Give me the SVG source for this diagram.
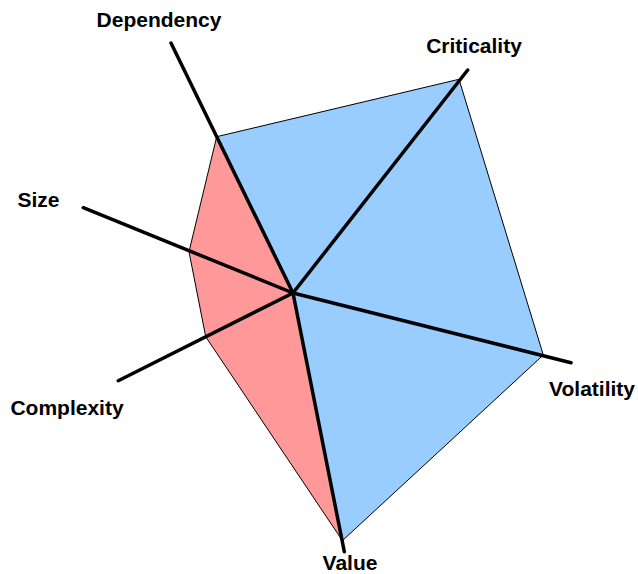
<svg xmlns="http://www.w3.org/2000/svg" width="638" height="574" viewBox="0 0 638 574">
<style>
.lbl{font-family:"Liberation Sans",Arial,sans-serif;font-weight:bold;font-size:21px;fill:#000;text-anchor:middle}
.axis{stroke:#000;stroke-width:3.5;stroke-linecap:round;fill:none}
.red{fill:#ff9999;stroke:#000;stroke-width:1}
.blue{fill:#99ccff;stroke:#000;stroke-width:1}
</style>
<rect width="638" height="574" fill="#fff"/>
<g id="series-red"><polygon class="red" points="216.7,136.7 189,251.7 205.7,336.7 342,540 293,293"/></g>
<g id="series-blue"><polygon class="blue" points="216.7,136.7 459,79.3 543.3,355 342,541 293,293"/></g>
<g id="axes">
<line class="axis" x1="293" y1="293" x2="171" y2="43"/>
<line class="axis" x1="293" y1="293" x2="467.7" y2="70"/>
<line class="axis" x1="293" y1="293" x2="571" y2="362.7"/>
<line class="axis" x1="293" y1="293" x2="344.3" y2="551.7"/>
<line class="axis" x1="293" y1="293" x2="118.3" y2="380.7"/>
<line class="axis" x1="293" y1="293" x2="83.3" y2="207.7"/>
</g>
<g id="labels">
<text class="lbl" x="159" y="27">Dependency</text>
<text class="lbl" x="474" y="53">Criticality</text>
<text class="lbl" x="592" y="396">Volatility</text>
<text class="lbl" x="350" y="570">Value</text>
<text class="lbl" x="67" y="415">Complexity</text>
<text class="lbl" x="38.5" y="207">Size</text>
</g>
</svg>
